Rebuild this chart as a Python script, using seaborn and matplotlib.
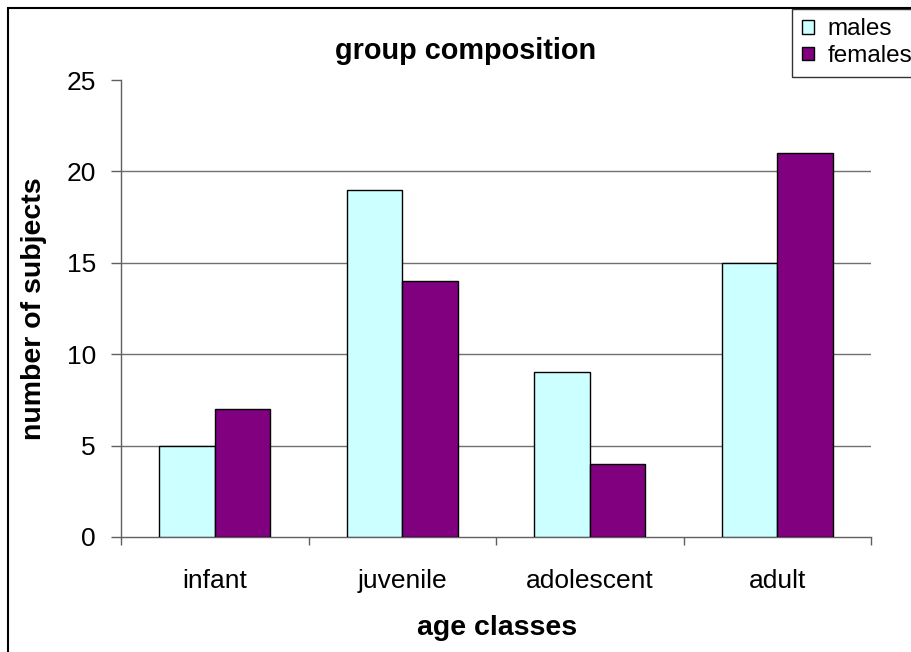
import matplotlib
matplotlib.use("Agg")
import matplotlib.pyplot as plt
import seaborn as sns
import pandas as pd
from matplotlib.patches import Rectangle, Patch

age_classes = ["infant", "juvenile", "adolescent", "adult"]
males = [5, 19, 9, 15]
females = [7, 14, 4, 21]
sex_labels = ["males", "females"]
y_ticks = [0, 5, 10, 15, 20, 25]

colors = {"males": "#CCFFFF", "females": "#800080"}
axis_grey = "#606060"

df = pd.DataFrame({
    "age": age_classes * 2,
    "sex": [sex_labels[0]] * len(age_classes) + [sex_labels[1]] * len(age_classes),
    "count": males + females,
})

sns.set_theme(style="white")
plt.rcParams["font.family"] = ["Liberation Sans", "DejaVu Sans"]
plt.rcParams["text.color"] = "black"
plt.rcParams["axes.labelcolor"] = "black"

W, H = 911, 652
fig = plt.figure(figsize=(W / 100, H / 100), dpi=100)
ax = fig.add_axes([121 / W, 1 - 537 / H, (871 - 121) / W, (537 - 80) / H])

sns.barplot(data=df, x="age", y="count", hue="sex", order=age_classes,
            hue_order=sex_labels, palette=colors, saturation=1, width=0.59,
            edgecolor="black", linewidth=1.0, ax=ax, legend=False, zorder=3)

ax.set_ylim(0, 25)
ax.set_xlim(-0.5, len(age_classes) - 0.5)
ax.set_yticks(y_ticks)
ax.set_yticklabels([str(t) for t in y_ticks], fontsize=19)

ax.set_xticks(range(len(age_classes)))
ax.set_xticklabels(age_classes, fontsize=19)
ax.set_xticks([i - 0.5 for i in range(len(age_classes) + 1)], minor=True)
ax.tick_params(axis="x", which="major", bottom=False, length=0, pad=23, labelcolor="black")
ax.tick_params(axis="x", which="minor", bottom=True, length=6, width=1,
               color=axis_grey, direction="out")
ax.tick_params(axis="y", which="major", left=True, length=7, width=1,
               color=axis_grey, direction="out", pad=11, labelcolor="black")

for t in y_ticks[1:-1]:
    ax.axhline(t, color="#707070", linewidth=1.0, zorder=1)

for s in ["top", "right"]:
    ax.spines[s].set_visible(False)
for s in ["left", "bottom"]:
    ax.spines[s].set_color(axis_grey)
    ax.spines[s].set_linewidth(1.0)

ax.set_xlabel("age classes", fontsize=20.5, fontweight="bold")
ax.xaxis.set_label_coords((497 - 121) / 750, (537 - 628) / 457)
ax.xaxis.label.set_va("center")
ax.set_ylabel("number of subjects", fontsize=20.5, fontweight="bold")
ax.yaxis.set_label_coords((34 - 121) / 750, (537 - 309) / 457)
ax.yaxis.label.set_va("center")

fig.text(466 / W, 1 - 51 / H, "group composition", fontsize=20.8, fontweight="bold",
         ha="center", va="center")

# outer chart-area frame, running off the right and bottom edges
top = 1 - 8.5 / H
fig.patches.append(Rectangle((7.5 / W, -0.2), 1.5, top + 0.2,
                             transform=fig.transFigure, fill=False,
                             edgecolor="black", linewidth=1.5, clip_on=False))

handles = [Patch(facecolor=colors[s], edgecolor="black", linewidth=1.0, label=s)
           for s in sex_labels]
leg = fig.legend(handles=handles, loc="upper left",
                 bbox_to_anchor=(792 / W, top), fontsize=17.5,
                 frameon=True, fancybox=False, handlelength=0.5, handleheight=0.5,
                 handletextpad=0.55, borderpad=0.4, labelspacing=0.2,
                 borderaxespad=0)
leg.get_frame().set_edgecolor("black")
leg.get_frame().set_linewidth(1.0)

fig.savefig("out.png", dpi=100)
